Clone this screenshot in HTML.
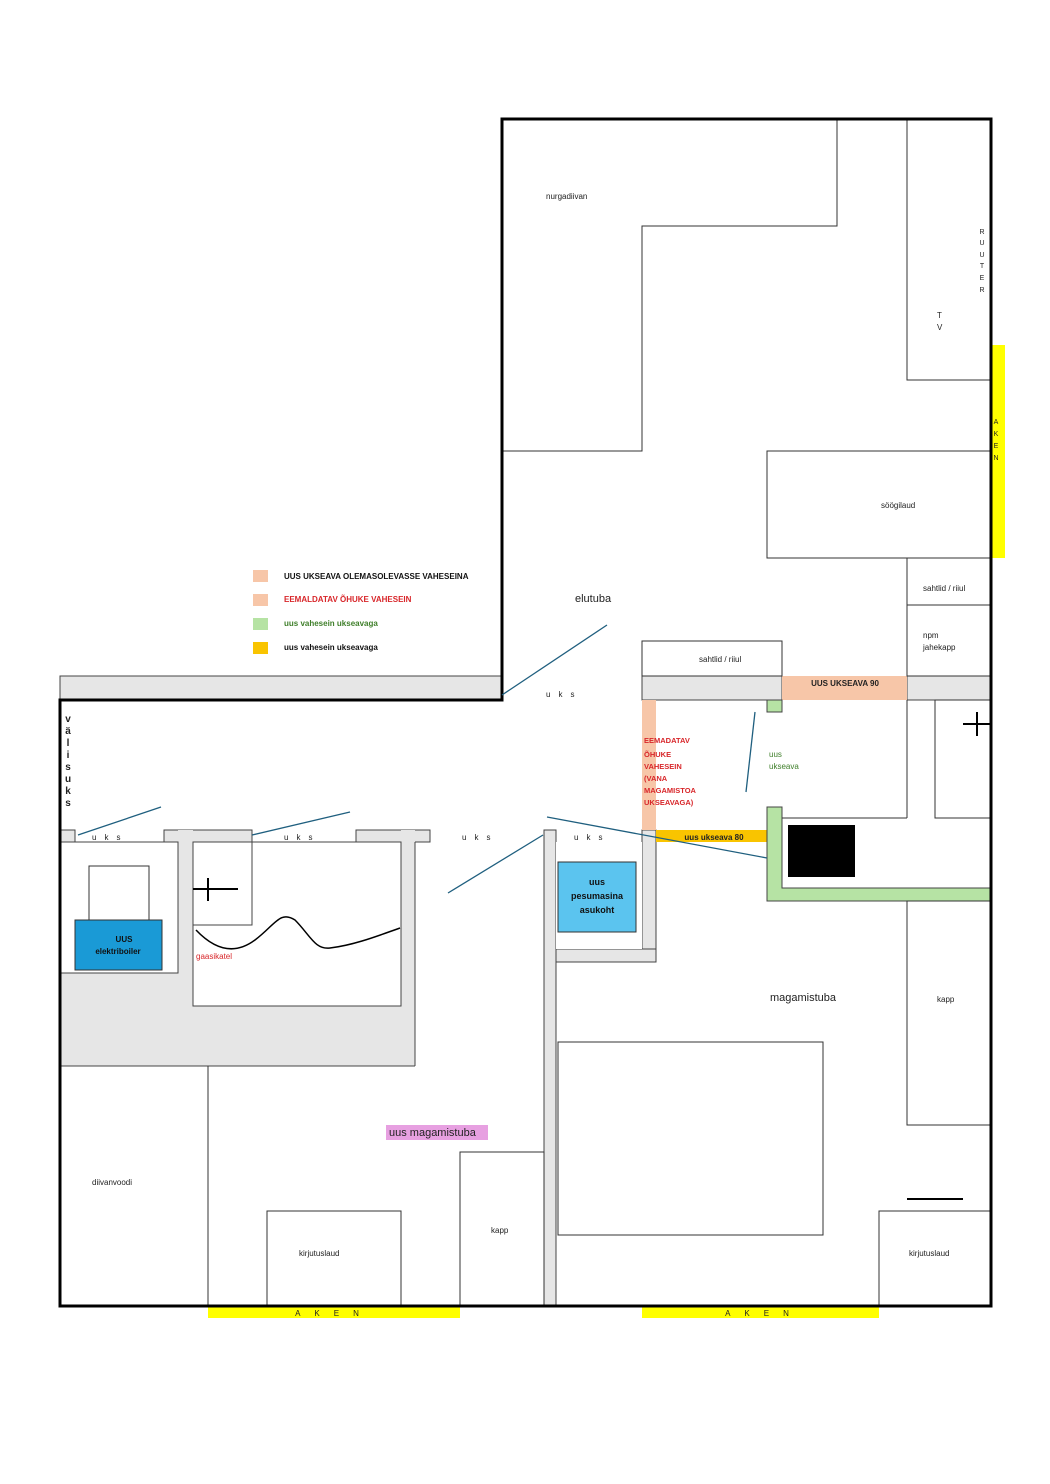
<!DOCTYPE html>
<html><head><meta charset="utf-8"><style>
html,body{margin:0;padding:0;background:#fff}
svg{display:block}
text{font-family:"Liberation Sans",sans-serif}
</style></head><body>
<svg width="1050" height="1484" viewBox="0 0 1050 1484" xmlns="http://www.w3.org/2000/svg">
<rect width="1050" height="1484" fill="#fff"/>
<rect x="991" y="345" width="14" height="213" fill="#ffff00"/>
<rect x="208" y="1306" width="252" height="12" fill="#ffff00"/>
<rect x="642" y="1306" width="237" height="12" fill="#ffff00"/>
<g fill="#e6e6e6" stroke="#444" stroke-width="1">
<rect x="60" y="676" width="442" height="24"/>
<rect x="642" y="676" width="140" height="24"/>
<rect x="907" y="676" width="84" height="24"/>
<rect x="60" y="830" width="15" height="12"/>
<rect x="164" y="830" width="88" height="12"/>
<rect x="356" y="830" width="74" height="12"/>
<path d="M60 842 H178 V830 H193 V842 H401 V830 H415 V1066 H60 Z" stroke="none"/>
<rect x="544" y="830" width="12" height="476"/>
<rect x="642" y="830" width="14" height="132"/>
<rect x="556" y="949" width="100" height="13"/>
</g>
<g fill="#fff" stroke="#444" stroke-width="1">
<rect x="60" y="842" width="118" height="131"/>
<rect x="193" y="842" width="208" height="164"/>
<rect x="193" y="842" width="59" height="83"/>
<rect x="556" y="842" width="86" height="107" stroke="none"/>
</g>
<line x1="178" y1="842" x2="178" y2="973" stroke="#444"/>
<line x1="415" y1="842" x2="415" y2="1066" stroke="#444"/>
<line x1="60" y1="1066" x2="415" y2="1066" stroke="#444"/>
<rect x="782" y="676" width="125" height="24" fill="#f7c6a8"/>
<rect x="642" y="700" width="14" height="130" fill="#f7c6a8"/>
<rect x="767" y="700" width="15" height="12" fill="#b6e3a4" stroke="#444"/>
<rect x="656" y="830" width="111" height="12" fill="#f9c400"/>
<path d="M767 807 H782 V888 H991 V901 H767 Z" fill="#b6e3a4" stroke="#444"/>
<rect x="788" y="825" width="67" height="52" fill="#000"/>
<g fill="none" stroke="#333" stroke-width="1">
<path d="M502 451 H642 V226 H837 V119"/>
<rect x="907" y="119" width="84" height="261"/>
<rect x="767" y="451" width="224" height="107"/>
<rect x="907" y="558" width="84" height="47"/>
<rect x="907" y="605" width="84" height="71"/>
<rect x="642" y="641" width="140" height="35"/>
<rect x="935" y="700" width="56" height="118"/>
<line x1="907" y1="700" x2="907" y2="818"/>
<line x1="782" y1="818" x2="907" y2="818"/>
<line x1="208" y1="1066" x2="208" y2="1306"/>
<rect x="267" y="1211" width="134" height="95"/>
<rect x="460" y="1152" width="84" height="154"/>
<rect x="558" y="1042" width="265" height="193"/>
<rect x="907" y="901" width="84" height="224"/>
<rect x="879" y="1211" width="112" height="95"/>
<rect x="89" y="866" width="60" height="54"/>
</g>
<line x1="907" y1="1199" x2="963" y2="1199" stroke="#000" stroke-width="2"/>
<g fill="none" stroke="#000" stroke-width="3">
<path d="M60 700 H502 V119 H991 V1306 H60 Z"/>
</g>
<g stroke="#000" stroke-width="2">
<line x1="193" y1="889" x2="238" y2="889"/><line x1="208" y1="878" x2="208" y2="901"/>
<line x1="963" y1="724" x2="991" y2="724"/><line x1="977" y1="712" x2="977" y2="736"/>
</g>
<path d="M196 930 C215 950 235 955 255 940 C275 925 280 910 295 920 C310 935 315 950 330 948 C355 945 380 935 400 928" fill="none" stroke="#000" stroke-width="1.5"/>
<g stroke="#1f5f7f" stroke-width="1.3">
<line x1="502" y1="695" x2="607" y2="625"/>
<line x1="78" y1="835" x2="161" y2="807"/>
<line x1="252" y1="835" x2="350" y2="812"/>
<line x1="448" y1="893" x2="543" y2="835"/>
<line x1="547" y1="817" x2="767" y2="858"/>
<line x1="746" y1="792" x2="755" y2="712"/>
</g>
<rect x="75" y="920" width="87" height="50" fill="#1a9ad6" stroke="#333"/>
<text x="124" y="942" font-size="8" font-weight="bold" text-anchor="middle" fill="#111">UUS</text>
<text x="118" y="954" font-size="8" font-weight="bold" text-anchor="middle" fill="#111">elektriboiler</text>
<rect x="558" y="862" width="78" height="70" fill="#5bc4ef" stroke="#333"/>
<text x="597" y="885" font-size="9" font-weight="bold" text-anchor="middle" fill="#111">uus</text>
<text x="597" y="899" font-size="9" font-weight="bold" text-anchor="middle" fill="#111">pesumasina</text>
<text x="597" y="913" font-size="9" font-weight="bold" text-anchor="middle" fill="#111">asukoht</text>
<rect x="386" y="1125" width="102" height="15" fill="#e7a0e1"/>
<text x="389" y="1136" font-size="11" fill="#222">uus magamistuba</text>
<rect x="253" y="570" width="15" height="12" fill="#f7c6a8"/>
<rect x="253" y="594" width="15" height="12" fill="#f7c6a8"/>
<rect x="253" y="618" width="15" height="12" fill="#b6e3a4"/>
<rect x="253" y="642" width="15" height="12" fill="#f9c400"/>
<g font-size="8" font-weight="bold">
<text x="284" y="579" fill="#111">UUS UKSEAVA OLEMASOLEVASSE VAHESEINA</text>
<text x="284" y="602" fill="#d8262a">EEMALDATAV ÕHUKE VAHESEIN</text>
<text x="284" y="626" fill="#3f7f2a">uus vahesein ukseavaga</text>
<text x="284" y="650" fill="#111">uus vahesein ukseavaga</text>
</g>
<g font-size="8" fill="#222">
<text x="546" y="199">nurgadiivan</text>
<text x="881" y="508">söögilaud</text>
<text x="923" y="591">sahtlid / riiul</text>
<text x="923" y="638">npm</text>
<text x="923" y="650">jahekapp</text>
<text x="699" y="662">sahtlid / riiul</text>
<text x="937" y="1002">kapp</text>
<text x="491" y="1233">kapp</text>
<text x="92" y="1185">diivanvoodi</text>
<text x="299" y="1256">kirjutuslaud</text>
<text x="909" y="1256">kirjutuslaud</text>
<text x="937" y="318">T</text><text x="937" y="330">V</text>
</g>
<g font-size="7" fill="#222" text-anchor="middle">
<text x="982" y="234">R</text><text x="982" y="245">U</text><text x="982" y="257">U</text><text x="982" y="268">T</text><text x="982" y="280">E</text><text x="982" y="292">R</text>
<text x="996" y="424">A</text><text x="996" y="436">K</text><text x="996" y="448">E</text><text x="996" y="460">N</text>
</g>
<text x="334" y="1316" font-size="8" fill="#222" text-anchor="middle" letter-spacing="14">AKEN</text>
<text x="764" y="1316" font-size="8" fill="#222" text-anchor="middle" letter-spacing="14">AKEN</text>
<text x="575" y="602" font-size="11" fill="#222">elutuba</text>
<text x="770" y="1001" font-size="11" fill="#222">magamistuba</text>
<g font-size="8" fill="#222" letter-spacing="8">
<text x="546" y="697">uks</text>
<text x="92" y="840">uks</text>
<text x="284" y="840">uks</text>
<text x="462" y="840">uks</text>
<text x="574" y="840">uks</text>
</g>
<g font-size="10" font-weight="bold" fill="#222" text-anchor="middle">
<text x="68" y="722">v</text><text x="68" y="734">ä</text><text x="68" y="746">l</text><text x="68" y="758">i</text><text x="68" y="770">s</text><text x="68" y="782">u</text><text x="68" y="794">k</text><text x="68" y="806">s</text>
</g>
<text x="845" y="686" font-size="8" font-weight="bold" text-anchor="middle" fill="#222">UUS UKSEAVA  90</text>
<text x="714" y="840" font-size="8" font-weight="bold" text-anchor="middle" fill="#222">uus ukseava 80</text>
<g font-size="7.5" font-weight="bold" fill="#d8262a">
<text x="644" y="743">EEMADATAV</text><text x="644" y="757">ÕHUKE</text><text x="644" y="769">VAHESEIN</text><text x="644" y="781">(VANA</text><text x="644" y="793">MAGAMISTOA</text><text x="644" y="805">UKSEAVAGA)</text>
</g>
<g font-size="8" fill="#3f7f2a"><text x="769" y="757">uus</text><text x="769" y="769">ukseava</text></g>
<text x="196" y="959" font-size="8" fill="#d8262a">gaasikatel</text>
</svg>
</body></html>
